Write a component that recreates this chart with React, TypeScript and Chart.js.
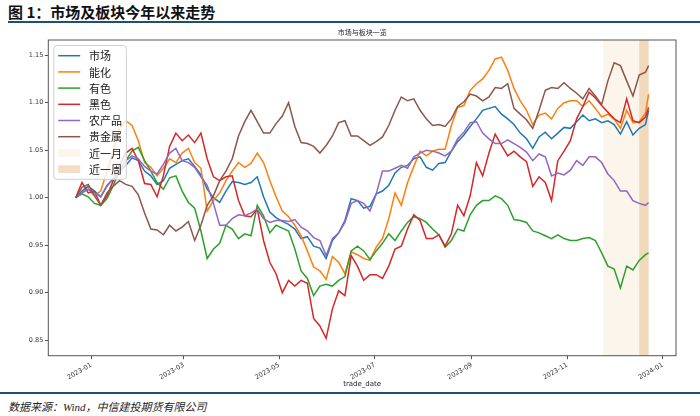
import React, { useEffect, useRef } from 'react';
import { Chart, registerables } from 'chart.js';

Chart.register(...registerables);

const figureTitle = '图 1：市场及板块今年以来走势';
const chartTitle = '市场与板块一览';
const xAxisTitle = 'trade_date';
const sourceNote = '数据来源：Wind，中信建投期货有限公司';

const seriesNames = ['市场', '能化', '有色', '黑色', '农产品', '贵金属'];
const seriesColors = ['#1f77b4', '#ff7f0e', '#2ca02c', '#d62728', '#9467bd', '#8c564b'];

// sample dates: days after 2023-01-01
const dayOffsets = [
  -10, -6, -2, 2, 6, 10, 14, 18, 22, 26, 30, 34, 38, 42, 46, 50, 54, 58, 62, 66,
  70, 74, 78, 82, 86, 90, 94, 98, 102, 106, 110, 114, 118, 122, 126, 130, 134, 138, 142, 146,
  150, 154, 158, 162, 166, 170, 174, 178, 182, 186, 190, 194, 198, 202, 206, 210, 214, 218, 222, 226,
  230, 234, 238, 242, 246, 250, 254, 258, 262, 266, 270, 274, 278, 282, 286, 290, 294, 298, 302, 306,
  310, 314, 318, 322, 326, 330, 334, 338, 342, 346, 350, 354, 356,
];

const market = [
  1.000, 1.007, 1.012, 1.007, 1.001, 1.013, 1.020, 1.028, 1.034, 1.042,
  1.039, 1.028, 1.023, 1.014, 1.018, 1.031, 1.035, 1.039, 1.041, 1.033,
  1.024, 1.009, 1.000, 0.995, 1.007, 1.017, 1.016, 1.014, 1.016, 1.022,
  1.001, 0.985, 0.979, 0.975, 0.972, 0.967, 0.957, 0.959, 0.949, 0.947,
  0.936, 0.955, 0.963, 0.976, 0.999, 0.997, 0.989, 0.991, 1.004, 1.007,
  1.013, 1.026, 1.032, 1.034, 1.041, 1.043, 1.032, 1.029, 1.036, 1.037,
  1.049, 1.059, 1.066, 1.075, 1.083, 1.092, 1.094, 1.096, 1.088, 1.083,
  1.077, 1.068, 1.062, 1.052, 1.064, 1.069, 1.062, 1.068, 1.074, 1.073,
  1.080, 1.087, 1.081, 1.083, 1.079, 1.081, 1.077, 1.067, 1.080, 1.066,
  1.073, 1.077, 1.092,
];

const energyChem = [
  1.000, 1.005, 1.009, 1.002, 1.007, 1.028, 1.049, 1.073, 1.081, 1.076,
  1.060, 1.037, 1.032, 1.023, 1.031, 1.041, 1.037, 1.047, 1.052, 1.037,
  1.031, 0.986, 0.997, 1.005, 1.018, 1.028, 1.037, 1.032, 1.036, 1.047,
  1.037, 1.018, 1.001, 0.986, 0.980, 0.971, 0.960, 0.944, 0.927, 0.923,
  0.914, 0.938, 0.932, 0.920, 0.943, 0.940, 0.936, 0.934, 0.948, 0.957,
  0.978, 1.005, 0.992, 1.016, 1.033, 1.049, 1.044, 1.049, 1.051, 1.051,
  1.076, 1.095, 1.097, 1.113, 1.120, 1.125, 1.134, 1.146, 1.148, 1.134,
  1.115, 1.102, 1.092, 1.077, 1.087, 1.089, 1.083, 1.094, 1.100, 1.102,
  1.102, 1.096, 1.102, 1.094, 1.085, 1.088, 1.083, 1.073, 1.092, 1.079,
  1.080, 1.089, 1.109,
];

const nonferrous = [
  1.000, 1.004, 1.001, 0.994, 0.992, 0.999, 1.013, 1.028, 1.039, 1.049,
  1.053, 1.039, 1.028, 1.016, 1.009, 1.021, 1.023, 1.007, 0.995, 0.989,
  0.965, 0.936, 0.946, 0.952, 0.971, 0.967, 0.957, 0.962, 0.960, 0.992,
  0.981, 0.963, 0.971, 0.968, 0.965, 0.946, 0.923, 0.915, 0.897, 0.907,
  0.909, 0.907, 0.913, 0.917, 0.944, 0.949, 0.944, 0.935, 0.944, 0.952,
  0.962, 0.955, 0.965, 0.974, 0.980, 0.978, 0.974, 0.967, 0.961, 0.948,
  0.955, 0.967, 0.965, 0.982, 0.992, 0.997, 0.997, 1.002, 0.999, 0.992,
  0.977, 0.976, 0.974, 0.965, 0.963, 0.960, 0.957, 0.961, 0.957, 0.955,
  0.955, 0.957, 0.958, 0.955, 0.942, 0.928, 0.925, 0.905, 0.928, 0.924,
  0.934, 0.940, 0.942,
];

const ferrous = [
  1.000, 1.016, 1.005, 1.007, 0.992, 1.002, 1.018, 1.034, 1.047, 1.052,
  1.039, 1.015, 1.014, 1.001, 1.023, 1.054, 1.068, 1.060, 1.066, 1.058,
  1.068, 1.041, 1.022, 1.018, 1.022, 1.023, 0.997, 0.981, 0.980, 0.988,
  0.955, 0.932, 0.920, 0.900, 0.913, 0.907, 0.913, 0.910, 0.873, 0.865,
  0.852, 0.883, 0.902, 0.897, 0.939, 0.928, 0.913, 0.919, 0.919, 0.915,
  0.928, 0.946, 0.949, 0.967, 0.982, 0.976, 0.957, 0.957, 0.961, 0.949,
  0.962, 0.992, 0.981, 1.002, 1.037, 1.023, 1.047, 1.067, 1.055, 1.044,
  1.049, 1.043, 1.038, 1.012, 1.022, 1.016, 0.997, 1.039, 1.049, 1.060,
  1.083, 1.096, 1.111, 1.105, 1.097, 1.090, 1.083, 1.079, 1.104, 1.081,
  1.079, 1.085, 1.095,
];

const agri = [
  1.000, 1.005, 1.009, 1.005, 1.001, 1.012, 1.020, 1.028, 1.039, 1.044,
  1.041, 1.033, 1.028, 1.025, 1.035, 1.047, 1.052, 1.039, 1.037, 1.032,
  1.022, 1.013, 0.994, 0.971, 0.971, 0.978, 0.982, 0.981, 0.984, 0.988,
  0.978, 0.974, 0.976, 0.976, 0.975, 0.977, 0.969, 0.965, 0.958, 0.955,
  0.939, 0.957, 0.963, 0.974, 0.994, 0.997, 0.994, 0.986, 1.004, 1.028,
  1.028, 1.031, 1.034, 1.031, 1.043, 1.047, 1.050, 1.049, 1.047, 1.044,
  1.049, 1.062, 1.069, 1.079, 1.080, 1.068, 1.062, 1.057, 1.057, 1.061,
  1.057, 1.053, 1.048, 1.039, 1.046, 1.043, 1.023, 1.026, 1.024, 1.029,
  1.039, 1.034, 1.043, 1.043, 1.037, 1.025, 1.018, 1.007, 1.007, 0.997,
  0.994, 0.992, 0.995,
];

const preciousMetals = [
  1.000, 1.011, 1.014, 1.002, 0.992, 1.005, 1.012, 1.018, 1.014, 1.012,
  1.003, 0.984, 0.967, 0.966, 0.961, 0.971, 0.965, 0.969, 0.975, 0.955,
  0.971, 0.992, 1.002, 1.018, 1.028, 1.041, 1.065, 1.080, 1.092, 1.080,
  1.068, 1.068, 1.078, 1.086, 1.100, 1.075, 1.058, 1.057, 1.054, 1.047,
  1.055, 1.065, 1.079, 1.081, 1.065, 1.065, 1.060, 1.055, 1.059, 1.064,
  1.076, 1.092, 1.106, 1.102, 1.104, 1.092, 1.083, 1.076, 1.077, 1.075,
  1.083, 1.096, 1.101, 1.109, 1.107, 1.102, 1.106, 1.116, 1.115, 1.120,
  1.094, 1.088, 1.082, 1.073, 1.092, 1.113, 1.116, 1.115, 1.121, 1.115,
  1.110, 1.104, 1.115, 1.107, 1.098, 1.123, 1.142, 1.139, 1.123, 1.107,
  1.129, 1.132, 1.139,
];

const seriesValues = [market, energyChem, nonferrous, ferrous, agri, preciousMetals];

const tickDays = [0, 59, 120, 181, 243, 304, 365];
const tickLabels = ['2023-01', '2023-03', '2023-05', '2023-07', '2023-09', '2023-11', '2024-01'];
const yTicks = [0.85, 0.9, 0.95, 1.0, 1.05, 1.1, 1.15];

const bandLabels = ['近一月', '近一周'];
const bandStarts = [327, 350];
const bandEnds = [356, 356];
const bandColors = ['rgba(240,215,180,0.25)', 'rgba(232,190,140,0.5)'];

const overlayPlugin = {
  id: 'overlay',
  beforeDatasetsDraw(chart: any) {
    const { ctx, chartArea: a, scales } = chart;
    const x = scales.x;
    ctx.save();
    bandStarts.forEach((s, i) => {
      const x0 = x.getPixelForValue(s);
      const x1 = x.getPixelForValue(bandEnds[i]);
      ctx.fillStyle = bandColors[i];
      ctx.fillRect(x0, a.top, x1 - x0, a.bottom - a.top);
    });
    ctx.restore();
  },
  afterDatasetsDraw(chart: any) {
    const { ctx, chartArea: a } = chart;
    ctx.save();
    ctx.strokeStyle = '#555';
    ctx.lineWidth = 1;
    ctx.strokeRect(a.left, a.top, a.right - a.left, a.bottom - a.top);
    ctx.restore();
  },
  afterDraw(chart: any) {
    const { ctx, chartArea: a } = chart;
    const fs = 11;
    const pad = 4.4;
    const handle = 22;
    const gap = 8.8;
    const row = 16.2;
    const edge = 10.2;
    const items = [
      ...chart.data.datasets.map((ds: any) => ({ kind: 'line', color: ds.borderColor, label: ds.label })),
      ...bandLabels.map((l, i) => ({ kind: 'patch', color: bandColors[i], label: l })),
    ];
    ctx.save();
    ctx.font = `${fs}px "Noto Sans CJK SC"`;
    const tw = Math.max(...items.map((it: any) => ctx.measureText(it.label).width));
    const x0 = a.left + 5.5;
    const y0 = a.top + 5.5;
    const w = pad + handle + gap + tw + pad;
    const h = edge * 2 + row * (items.length - 1);
    ctx.beginPath();
    ctx.roundRect(x0, y0, w, h, 3);
    ctx.fillStyle = 'rgba(255,255,255,0.8)';
    ctx.fill();
    ctx.strokeStyle = '#d0d0d0';
    ctx.lineWidth = 1;
    ctx.stroke();
    items.forEach((it: any, i: number) => {
      const cy = y0 + edge + i * row;
      if (it.kind === 'line') {
        ctx.beginPath();
        ctx.moveTo(x0 + pad, cy);
        ctx.lineTo(x0 + pad + handle, cy);
        ctx.strokeStyle = it.color;
        ctx.lineWidth = 1.5;
        ctx.stroke();
      } else {
        ctx.fillStyle = it.color;
        ctx.fillRect(x0 + pad, cy - 3.85, handle, 7.7);
      }
      ctx.fillStyle = '#1a1a1a';
      ctx.textBaseline = 'middle';
      ctx.textAlign = 'left';
      ctx.fillText(it.label, x0 + pad + handle + gap, cy + 0.5);
    });
    ctx.restore();
  },
};

export default function App() {
  const ref = useRef<HTMLCanvasElement>(null);

  useEffect(() => {
    const datasets = seriesNames.map((name, i) => ({
      label: name,
      data: dayOffsets.map((d, j) => ({ x: d, y: seriesValues[i][j] })),
      borderColor: seriesColors[i],
      backgroundColor: seriesColors[i],
      borderWidth: 1.5,
      pointRadius: 0,
      tension: 0,
      fill: false,
      order: seriesNames.length - i,
    }));
    const tickFont = { family: 'DejaVu Sans', size: 6.5 };
    const chart = new Chart(ref.current as HTMLCanvasElement, {
      type: 'line',
      data: { datasets },
      options: {
        responsive: false,
        animation: false,
        devicePixelRatio: 1,
        layout: { padding: { left: 0, right: 24, top: 0, bottom: 0 } },
        plugins: {
          legend: { display: false },
          tooltip: { enabled: false },
          title: {
            display: true,
            fullSize: false,
            text: chartTitle,
            color: '#222',
            font: { family: 'Noto Sans CJK SC', size: 7, weight: 'normal' },
            padding: { top: 10, bottom: 3.6 },
          },
        },
        scales: {
          x: {
            type: 'linear',
            min: -27.5,
            max: 373.5,
            afterBuildTicks: (s: any) => {
              s.ticks = tickDays.map((v) => ({ value: v }));
            },
            afterFit: (s: any) => {
              s.height = 38.3;
            },
            grid: { display: true, drawOnChartArea: false, drawTicks: true, tickLength: 3.5, color: '#555' },
            border: { display: false },
            ticks: {
              autoSkip: false,
              minRotation: 30,
              maxRotation: 30,
              padding: 2,
              color: '#333',
              font: tickFont,
              callback: (v: any) => {
                const k = tickDays.indexOf(Number(v));
                return k >= 0 ? tickLabels[k] : '';
              },
            },
            title: {
              display: true,
              text: xAxisTitle,
              color: '#222',
              font: { family: 'DejaVu Sans', size: 7 },
              padding: { top: 0, bottom: 6 },
            },
          },
          y: {
            type: 'linear',
            min: 0.8337,
            max: 1.166,
            afterBuildTicks: (s: any) => {
              s.ticks = yTicks.map((v) => ({ value: v }));
            },
            afterFit: (s: any) => {
              s.width = 48.3;
            },
            grid: { display: true, drawOnChartArea: false, drawTicks: true, tickLength: 3.5, color: '#555' },
            border: { display: false },
            ticks: {
              padding: 1.5,
              color: '#333',
              font: tickFont,
              callback: (v: any) => Number(v).toFixed(2),
            },
          },
        },
      },
      plugins: [overlayPlugin],
    } as any);
    return () => chart.destroy();
  }, []);

  return (
    <div style={{ position: 'fixed', left: 0, top: 0, width: 700, height: 416, background: '#fff', overflow: 'hidden' }}>
      <div
        style={{
          position: 'absolute', left: 8, top: 4, fontFamily: '"Noto Sans CJK SC"', fontWeight: 'bold',
          fontSize: 15, lineHeight: '16px', color: '#111', whiteSpace: 'nowrap',
        }}
      >
        {figureTitle}
      </div>
      <canvas ref={ref} width={700} height={376} style={{ position: 'absolute', left: 0, top: 18, width: 700, height: 376 }} />
      <div style={{ position: 'absolute', left: 8, top: 21, width: 692, height: 2, background: '#1f4e79' }} />
      <div style={{ position: 'absolute', left: 0, top: 392, width: 700, height: 2, background: '#1f4e79' }} />
      <div
        style={{
          position: 'absolute', left: 8, top: 401, fontFamily: '"Liberation Serif", "Noto Sans CJK SC"', fontStyle: 'italic',
          fontSize: 11, lineHeight: '12px', color: '#222', whiteSpace: 'nowrap',
        }}
      >
        {sourceNote}
      </div>
    </div>
  );
}
